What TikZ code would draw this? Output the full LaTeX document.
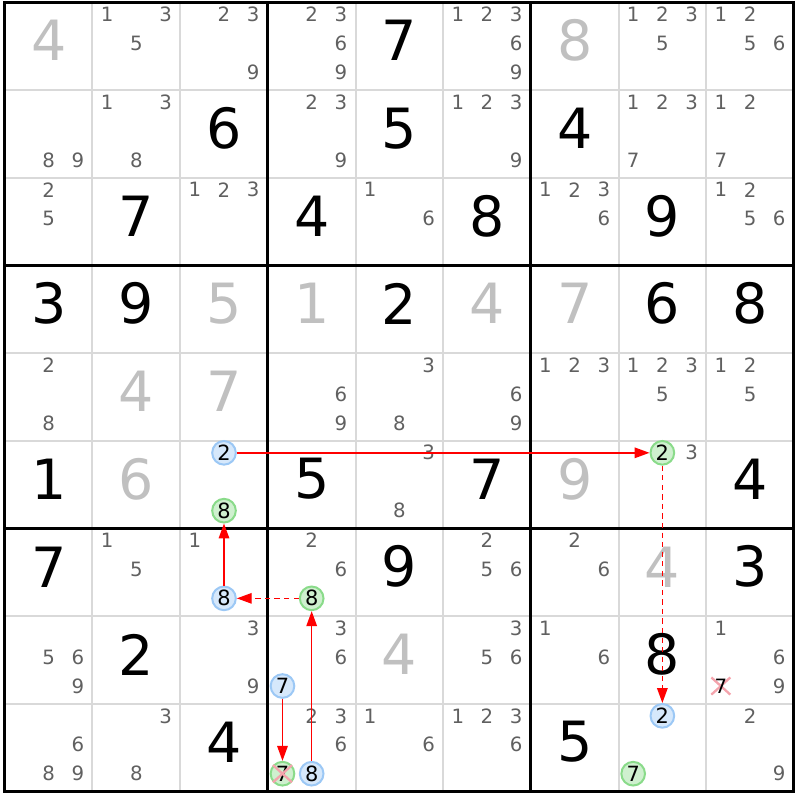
\documentclass[tikz,border=0pt]{standalone}
\usepackage{fontspec}
\setmainfont{DejaVu Sans}
\usepackage{tikz}
\usetikzlibrary{arrows.meta,shapes.misc}
\definecolor{gridgray}{HTML}{D9D9D9}
\definecolor{solvedgray}{HTML}{C0C0C0}
\definecolor{candgray}{HTML}{606060}
\definecolor{bluefill}{HTML}{D6E8FB}
\definecolor{blueedge}{HTML}{9CC8F5}
\definecolor{greenfill}{HTML}{CFF0CF}
\definecolor{greenedge}{HTML}{8ADB8A}
\definecolor{crosspink}{HTML}{F4A3AC}

\begin{document}
\begin{tikzpicture}[
  thinline/.style={draw=gridgray, line width=0.65pt},
  thickline/.style={draw=black, line width=1.05pt},
  givennode/.style={text=black, font=\fontsize{18}{18}\selectfont, inner sep=0pt},
  solvednode/.style={givennode, text=solvedgray},
  candnode/.style={text=candgray, font=\fontsize{6.4}{6.4}\selectfont, inner sep=0pt},
  bluenode/.style={circle, draw=blueedge, fill=bluefill, line width=0.65pt, minimum size=2.7mm, inner sep=0pt, text=black, font=\fontsize{6.8}{6.8}\selectfont},
  greennode/.style={bluenode, draw=greenedge, fill=greenfill},
  crossnode/.style={cross out, draw=crosspink, line width=0.75pt, minimum width=1.9mm, minimum height=1.7mm, inner sep=0pt},
  stronglink/.style={-{Triangle[length=1.7mm,width=1.2mm]}, red, line width=0.45pt},
  weaklink/.style={stronglink, dash pattern=on 1.7pt off 1.4pt},
]

\useasboundingbox (-0.055,-0.1) rectangle (9.07,9.025);

% Grid
\foreach \i in {1,2,4,5,7,8} {
  \draw[thinline] (\i,0) -- (\i,9);
  \draw[thinline] (0,\i) -- (9,\i);
}
\foreach \i in {3,6} {
  \draw[thickline] (\i,0) -- (\i,9);
  \draw[thickline] (0,\i) -- (9,\i);
}
\draw[thickline] (0,0) rectangle (9,9);

% Given digits
\foreach \r/\c/\v in {1/5/7, 2/3/6, 2/5/5, 2/7/4, 3/2/7, 3/4/4, 3/6/8, 3/8/9,
    4/1/3, 4/2/9, 4/5/2, 4/8/6, 4/9/8, 6/1/1, 6/4/5, 6/6/7, 6/9/4,
    7/1/7, 7/5/9, 7/9/3, 8/2/2, 8/8/8, 9/3/4, 9/7/5}
  \node[givennode] (g\r\c) at ({\c-0.5},{9.56-\r}) {\v};

% Solved digits
\foreach \r/\c/\v in {1/1/4, 1/7/8, 4/3/5, 4/4/1, 4/6/4, 4/7/7, 5/2/4, 5/3/7,
    6/2/6, 6/7/9, 7/8/4, 8/5/4}
  \node[solvednode] (s\r\c) at ({\c-0.5},{9.56-\r}) {\v};

% Candidates
\foreach \r/\c/\ds in {1/2/{1,3,5}, 1/3/{2,3,9}, 1/4/{2,3,6,9}, 1/6/{1,2,3,6,9}, 1/8/{1,2,3,5}, 1/9/{1,2,5,6},
    2/1/{8,9}, 2/2/{1,3,8}, 2/4/{2,3,9}, 2/6/{1,2,3,9}, 2/8/{1,2,3,7}, 2/9/{1,2,7},
    3/1/{2,5}, 3/3/{1,2,3}, 3/5/{1,6}, 3/7/{1,2,3,6}, 3/9/{1,2,5,6},
    5/1/{2,8}, 5/4/{6,9}, 5/5/{3,8}, 5/6/{6,9}, 5/7/{1,2,3}, 5/8/{1,2,3,5}, 5/9/{1,2,5},
    6/5/{3,8}, 6/8/{3},
    7/2/{1,5}, 7/3/{1}, 7/4/{2,6}, 7/6/{2,5,6}, 7/7/{2,6},
    8/1/{5,6,9}, 8/3/{3,9}, 8/4/{3,6}, 8/6/{3,5,6}, 8/7/{1,6}, 8/9/{1,6,9},
    9/1/{6,8,9}, 9/2/{3,8}, 9/4/{2,3,6}, 9/5/{1,6}, 9/6/{1,2,3,6}, 9/9/{2,9}}
  \foreach \d in \ds
    \node[candnode] (k\r\c\d) at ({\c-1+mod(\d-1,3)/3+1/6},{10-\r-0.14-0.33*floor((\d-1)/3)}) {\d};

% Chain candidates
\node[bluenode] (n632) at (2.5,3.86) {2};
\node[greennode] (n638) at (2.5,3.2) {8};
\node[greennode] (n682) at (7.5,3.86) {2};
\node[bluenode] (n738) at (2.5,2.2) {8};
\node[greennode] (n748) at (3.5,2.2) {8};
\node[bluenode] (n847) at (3.167,1.2) {7};
\node[greennode] (n947) at (3.167,0.2) {7};
\node[bluenode] (n948) at (3.5,0.2) {8};
\node[bluenode] (n982) at (7.5,0.86) {2};
\node[greennode] (n987) at (7.167,0.2) {7};

% Eliminations
\node[crossnode] (x947) at (n947) {};
\node[crossnode] (x897) at (8.167,1.2) {};
\node[candnode, text=black] (k897) at (x897) {7};

% Links
\draw[stronglink] (n632) -- (n682);
\draw[weaklink] (n682) -- (n982);
\draw[stronglink] (n948) -- (n748);
\draw[weaklink] (n748) -- (n738);
\draw[stronglink] (n738) -- (n638);
\draw[stronglink] (n847) -- (n947);

\end{tikzpicture}
\end{document}
